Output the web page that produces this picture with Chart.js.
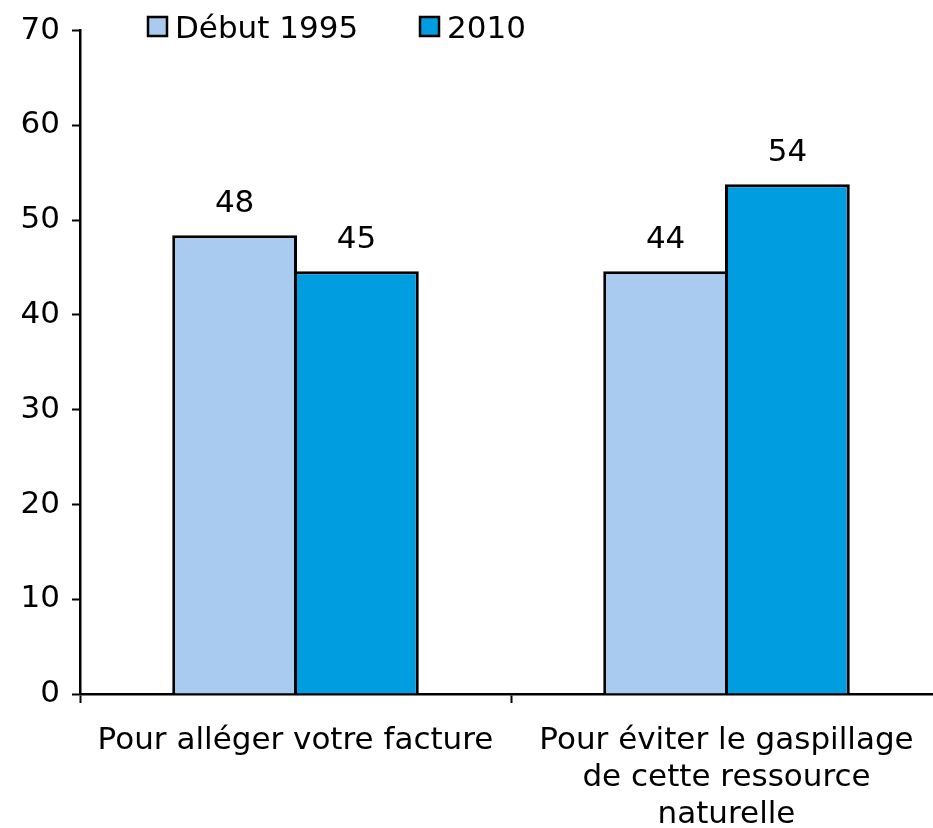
<!DOCTYPE html>
<html>
<head>
<meta charset="utf-8">
<script src="https://cdn.jsdelivr.net/npm/chart.js@4/dist/chart.umd.min.js"></script>
<style>
  body { margin: 0; background: #fff; overflow: hidden; }
  #wrap { width: 933px; height: 828px; overflow: hidden; }
</style>
</head>
<body>
<div id="wrap"><canvas id="chart" width="942" height="828"></canvas></div>
<script>
const categories = [
  "Pour alléger votre facture",
  ["Pour éviter le gaspillage", "de cette ressource", "naturelle"]
];
const seriesNames = ["Début 1995", "2010"];
const seriesColors = ["#a8cbef", "#009ee0"];
const values1995 = [48.4, 44.6];
const values2010 = [44.6, 53.8];
const labels1995 = ["48", "44"];
const labels2010 = ["45", "54"];
const yTicks = [0, 10, 20, 30, 40, 50, 60, 70];

const FONT = "'DejaVu Sans', Verdana, sans-serif";
const SIZE = 31;
Chart.defaults.font.family = FONT;
Chart.defaults.font.size = SIZE;
Chart.defaults.color = "#000";

// value labels above each bar
const barLabels = {
  id: "barLabels",
  afterDatasetsDraw(chart) {
    const ctx = chart.ctx;
    const texts = [labels1995, labels2010];
    ctx.save();
    ctx.font = SIZE + "px " + FONT;
    ctx.fillStyle = "#000";
    ctx.textAlign = "center";
    ctx.textBaseline = "alphabetic";
    chart.data.datasets.forEach((ds, i) => {
      chart.getDatasetMeta(i).data.forEach((bar, j) => {
        ctx.fillText(texts[i][j], bar.x, bar.y - 23);
      });
    });
    ctx.restore();
  }
};

// legend row at the top, overlapping the plot top like the original
const topLegend = {
  id: "topLegend",
  afterDraw(chart) {
    const ctx = chart.ctx;
    const starts = [148, 420];
    ctx.save();
    ctx.font = SIZE + "px " + FONT;
    ctx.textBaseline = "alphabetic";
    chart.data.datasets.forEach((ds, i) => {
      const x = starts[i];
      ctx.fillStyle = ds.backgroundColor;
      ctx.fillRect(x, 17, 19, 19);
      ctx.lineWidth = 2.5;
      ctx.strokeStyle = "#000";
      ctx.strokeRect(x, 17, 19, 19);
      ctx.fillStyle = "#000";
      ctx.fillText(ds.label, x + 27, 38);
    });
    ctx.restore();
  }
};

new Chart(document.getElementById("chart"), {
  type: "bar",
  data: {
    labels: categories,
    datasets: [
      {
        label: seriesNames[0],
        data: values1995,
        backgroundColor: seriesColors[0],
        borderColor: "#000",
        borderWidth: 3,
        categoryPercentage: 0.565,
        barPercentage: 1.025
      },
      {
        label: seriesNames[1],
        data: values2010,
        backgroundColor: seriesColors[1],
        borderColor: "#000",
        borderWidth: 3,
        categoryPercentage: 0.565,
        barPercentage: 1.025
      }
    ]
  },
  options: {
    responsive: false,
    animation: false,
    layout: { padding: { top: 29, right: 0, left: 0, bottom: 0 } },
    plugins: {
      legend: { display: false },
      tooltip: { enabled: false }
    },
    scales: {
      y: {
        min: 0,
        max: 70,
        afterBuildTicks: (axis) => {
          axis.ticks = yTicks.map(v => ({ value: v }));
        },
        afterFit: (axis) => { axis.width = 80; },
        border: { color: "#000", width: 2.5 },
        grid: {
          drawOnChartArea: false,
          tickLength: 8,
          tickColor: "#000",
          tickWidth: 2
        },
        ticks: { padding: 12, font: { size: SIZE } }
      },
      x: {
        afterFit: (axis) => { axis.height = 134; },
        border: { color: "#000", width: 2.5 },
        grid: {
          offset: true,
          drawOnChartArea: false,
          tickLength: 9,
          tickColor: "#000",
          tickWidth: 2
        },
        ticks: {
          maxRotation: 0,
          padding: 19,
          font: { size: SIZE, lineHeight: 1.2 }
        }
      }
    }
  },
  plugins: [barLabels, topLegend]
});
</script>
</body>
</html>
